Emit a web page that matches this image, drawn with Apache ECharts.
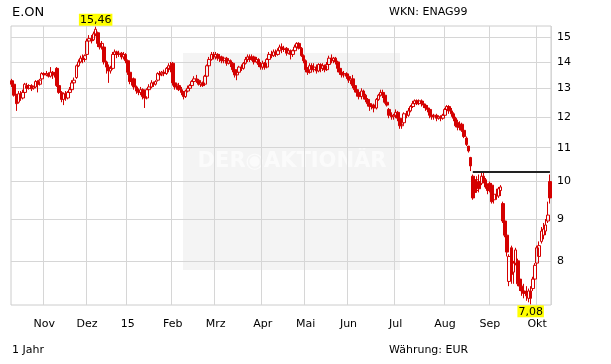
<!DOCTYPE html>
<html><head><meta charset="utf-8">
<script src="https://cdn.jsdelivr.net/npm/echarts@6/dist/echarts.min.js"></script>
<style>html,body{margin:0;padding:0;background:#fff}#c{width:611px;height:364px}</style>
</head><body><div id="c"></div>
<script>
// Month tick labels (first month is the partial Oct 2014, unlabeled)
const monthLabels = ['', 'Nov', 'Dez', '15', 'Feb', 'Mrz', 'Apr', 'Mai', 'Jun', 'Jul', 'Aug', 'Sep', 'Okt'];
// Daily candles per month: [open, close, low, high]
const okt14 = [[13.28,13.15,13.05,13.35],[13.15,12.75,12.70,13.20],[12.75,12.45,12.20,12.80],[12.50,12.80,12.45,12.90],[12.80,12.65,12.55,12.90],[12.65,12.85,12.60,12.95],[12.85,13.15,12.80,13.20],[13.10,13.00,12.90,13.20],[13.00,13.10,12.95,13.15],[13.10,12.98,12.90,13.15],[13.00,13.05,12.95,13.10],[13.05,13.25,13.00,13.30],[13.25,13.15,12.85,13.30],[13.15,13.30,13.10,13.35],[13.35,13.55,13.30,13.60]];
const nov14 = [[13.55,13.50,13.40,13.60],[13.50,13.55,13.45,13.65],[13.55,13.45,13.40,13.60],[13.45,13.60,13.40,13.80],[13.60,13.50,13.35,13.65],[13.50,13.55,13.40,13.60],[13.75,13.10,13.05,13.80],[13.10,12.85,12.80,13.30],[12.85,12.60,12.50,12.90],[12.60,12.80,12.40,12.85],[12.80,12.65,12.55,12.90],[12.65,12.85,12.60,12.90],[12.85,12.95,12.75,13.05],[12.95,13.20,12.90,13.30],[13.20,13.30,13.10,13.40],[13.40,13.85,13.35,13.90],[13.85,14.00,13.80,14.10],[14.00,14.15,13.95,14.25],[14.15,14.10,13.95,14.30],[14.10,14.25,14.00,14.30]];
const dez14 = [[14.30,14.85,14.25,14.95],[14.85,14.95,14.75,15.10],[14.95,14.85,14.75,15.10],[14.90,15.15,14.85,15.25],[15.15,15.35,15.05,15.46],[15.20,14.75,14.60,15.25],[14.75,14.60,14.50,14.85],[14.60,14.75,14.50,14.85],[14.60,14.00,13.90,14.65],[14.00,13.80,13.55,14.05],[13.80,13.65,13.20,13.90],[13.65,13.75,13.55,13.85],[13.75,14.30,13.70,14.40],[14.30,14.40,14.20,14.50],[14.40,14.30,14.15,14.45],[14.30,14.35,14.20,14.45],[14.35,14.20,14.10,14.40],[14.20,14.30,14.10,14.40],[14.30,14.05,13.95,14.35]];
const jan15 = [[14.05,13.60,13.50,14.10],[13.60,13.25,13.15,13.70],[13.25,13.35,13.10,13.45],[13.35,13.05,12.95,13.40],[13.05,12.90,12.80,13.10],[12.90,12.85,12.75,13.00],[12.85,12.95,12.75,13.05],[12.95,12.70,12.60,13.00],[12.70,12.65,12.30,12.80],[12.65,12.95,12.60,13.00],[12.95,13.05,12.90,13.15],[13.05,13.20,13.00,13.30],[13.20,13.15,13.05,13.25],[13.15,13.25,13.10,13.30],[13.30,13.55,13.25,13.60],[13.55,13.50,13.40,13.65],[13.50,13.60,13.45,13.65],[13.60,13.55,13.45,13.70],[13.55,13.75,13.50,13.80],[13.75,13.85,13.60,13.95],[13.85,13.70,13.60,14.00]];
const feb15 = [[13.95,13.20,13.10,14.00],[13.20,13.05,12.95,13.25],[13.05,13.15,12.95,13.20],[13.10,12.95,12.90,13.20],[12.95,12.85,12.75,13.05],[12.85,12.70,12.60,12.90],[12.70,12.90,12.65,12.95],[12.90,13.00,12.85,13.10],[13.00,13.10,12.95,13.15],[13.10,13.25,13.05,13.30],[13.25,13.35,13.20,13.45],[13.35,13.30,13.20,13.50],[13.30,13.15,13.10,13.35],[13.15,13.20,13.05,13.30],[13.20,13.10,13.05,13.25],[13.15,13.45,13.10,13.50],[13.45,13.85,13.40,13.90],[13.85,14.10,13.80,14.20],[14.10,14.30,14.05,14.40],[14.30,14.20,14.10,14.40]];
const mrz15 = [[14.20,14.30,14.10,14.40],[14.30,14.15,14.05,14.35],[14.15,14.20,14.00,14.30],[14.20,14.05,13.95,14.25],[14.05,14.15,13.95,14.20],[14.15,13.95,13.85,14.20],[13.95,14.05,13.90,14.15],[14.05,13.95,13.80,14.10],[13.95,13.70,13.60,14.00],[13.70,13.50,13.40,13.75],[13.50,13.60,13.30,13.70],[13.60,13.80,13.55,13.85],[13.80,13.75,13.65,13.90],[13.75,13.95,13.70,14.00],[13.95,14.10,13.90,14.20],[14.10,14.20,14.00,14.30],[14.20,14.10,14.00,14.30],[14.10,14.20,14.05,14.30],[14.20,14.00,13.90,14.25],[14.00,14.10,13.95,14.20],[14.10,13.90,13.80,14.15],[13.90,13.80,13.70,14.00]];
const apr15 = [[13.80,13.95,13.70,14.05],[13.95,13.80,13.70,14.00],[13.80,14.10,13.75,14.15],[14.10,14.30,14.05,14.40],[14.30,14.25,14.15,14.45],[14.25,14.40,14.20,14.50],[14.40,14.30,14.20,14.50],[14.30,14.45,14.25,14.55],[14.45,14.60,14.40,14.70],[14.60,14.50,14.35,14.75],[14.50,14.55,14.40,14.65],[14.55,14.35,14.25,14.60],[14.35,14.45,14.30,14.55],[14.45,14.30,14.10,14.50],[14.30,14.45,14.20,14.50],[14.45,14.60,14.40,14.70],[14.60,14.75,14.55,14.80],[14.75,14.55,14.50,14.80],[14.55,14.25,14.20,14.60],[14.25,14.05,13.95,14.30]];
const mai15 = [[14.05,13.70,13.60,14.10],[13.70,13.60,13.50,13.80],[13.60,13.85,13.55,13.95],[13.85,13.70,13.60,13.95],[13.70,13.80,13.60,13.95],[13.80,13.65,13.55,13.90],[13.65,13.90,13.60,13.95],[13.90,13.75,13.60,13.95],[13.75,13.85,13.65,13.95],[13.85,13.70,13.60,13.90],[13.70,13.90,13.65,14.00],[13.90,14.15,13.85,14.25],[14.15,14.05,13.95,14.30],[14.05,14.15,13.95,14.20],[14.15,14.00,13.90,14.20],[14.00,13.75,13.60,14.05],[13.75,13.60,13.50,13.80],[13.60,13.50,13.40,13.70],[13.50,13.55,13.40,13.65],[13.55,13.45,13.35,13.60]];
const jun15 = [[13.45,13.30,13.20,13.55],[13.30,13.35,13.15,13.45],[13.35,13.10,13.00,13.50],[13.10,12.95,12.85,13.15],[12.95,12.85,12.70,13.00],[12.85,12.70,12.60,12.90],[12.70,12.90,12.60,13.00],[12.90,12.75,12.60,12.95],[12.75,12.60,12.50,12.80],[12.60,12.45,12.35,12.65],[12.45,12.35,12.20,12.50],[12.35,12.40,12.25,12.45],[12.40,12.30,12.15,12.45],[12.30,12.60,12.25,12.65],[12.60,12.75,12.55,12.80],[12.75,12.85,12.70,12.95],[12.85,12.75,12.65,12.95],[12.75,12.50,12.45,12.80],[12.50,12.40,12.35,12.55],[12.25,12.05,11.95,12.30],[12.05,12.00,11.90,12.15],[12.00,12.05,11.90,12.10]];
const jul15 = [[12.05,12.15,11.95,12.25],[12.15,11.95,11.85,12.20],[11.95,11.70,11.60,12.00],[11.70,11.75,11.60,11.90],[11.80,12.10,11.75,12.15],[12.10,12.05,11.95,12.20],[12.05,12.20,12.00,12.30],[12.20,12.35,12.15,12.40],[12.35,12.45,12.30,12.55],[12.45,12.55,12.35,12.60],[12.55,12.45,12.40,12.60],[12.45,12.55,12.40,12.60],[12.55,12.45,12.35,12.60],[12.45,12.40,12.30,12.55],[12.40,12.30,12.20,12.45],[12.30,12.25,12.15,12.40],[12.25,12.05,11.95,12.30],[12.05,12.00,11.90,12.15],[12.00,12.05,11.90,12.10],[12.05,11.95,11.85,12.10],[11.95,12.00,11.90,12.05],[12.00,11.95,11.85,12.05],[11.95,12.05,11.90,12.10]];
const aug15 = [[12.05,12.25,12.00,12.30],[12.25,12.35,12.10,12.40],[12.35,12.20,12.10,12.40],[12.20,12.10,12.00,12.30],[12.10,11.95,11.85,12.15],[11.95,11.70,11.65,12.00],[11.80,11.65,11.55,11.90],[11.65,11.75,11.55,11.85],[11.75,11.55,11.50,11.80],[11.55,11.35,11.30,11.60],[11.30,11.10,11.05,11.35],[11.05,10.90,10.85,11.05],[10.70,10.45,10.30,10.72],[10.15,9.55,9.50,10.20],[10.05,9.70,9.55,10.15],[9.75,10.05,9.70,10.15],[10.00,9.80,9.70,10.20],[9.95,10.15,9.90,10.25],[10.15,10.05,9.95,10.25],[10.05,9.85,9.80,10.10],[9.85,9.75,9.65,9.95]];
const sep15 = [[9.95,9.75,9.70,10.00],[9.90,9.45,9.40,9.95],[9.50,9.65,9.40,9.75],[9.65,9.60,9.50,9.80],[9.60,9.80,9.55,9.85],[9.75,9.85,9.60,9.90],[9.40,8.95,8.90,9.45],[8.95,8.60,8.55,9.00],[8.60,8.20,8.10,8.65],[7.55,8.10,7.45,8.15],[8.30,7.70,7.50,8.35],[7.75,7.95,7.50,8.00],[7.95,8.25,7.90,8.30],[8.00,7.50,7.45,8.05],[7.60,7.45,7.35,7.70],[7.45,7.35,7.25,7.50],[7.35,7.30,7.20,7.50],[7.30,7.25,7.15,7.45],[7.20,7.35,7.12,7.40],[7.35,7.20,7.08,7.45],[7.40,7.60,7.35,7.65],[7.60,7.90,7.55,7.95]];
const okt15 = [[7.95,8.30,7.90,8.35],[8.10,8.35,8.00,8.45],[8.45,8.70,8.40,8.80],[8.60,8.75,8.50,8.90],[8.70,8.85,8.60,9.00],[8.95,9.10,8.90,9.45],[10.00,9.55,9.40,10.20]];
// Price axis tick values
const yTicks = [8, 9, 10, 11, 12, 13, 14, 15];
// Horizontal gap line: level and the candle it starts at
const gapLevel = 10.28;
const gapStartIndex = 215;

const months = [okt14, nov14, dez14, jan15, feb15, mrz15, apr15, mai15, jun15, jul15, aug15, sep15, okt15];
const categories = [];
const ohlc = [];
months.forEach((arr, m) => arr.forEach((d, j) => { categories.push(m + '-' + j); ohlc.push(d); }));
const isMonthStart = (idx, val) => /-0$/.test(String(val)) && !String(val).startsWith('0-');

const FONT = 'DejaVu Sans';
const RED = '#d40000';
const chart = echarts.init(document.getElementById('c'), null, { renderer: 'canvas' });
chart.setOption({
  animation: false,
  textStyle: { fontFamily: FONT },
  grid: { left: 11, right: 60, top: 26, bottom: 59, show: true, borderColor: '#cccccc', borderWidth: 1 },
  graphic: [
    { type: 'rect', z: -100, silent: true, shape: { x: 183, y: 53, width: 217, height: 217 }, style: { fill: '#f4f4f4' } },
    { type: 'text', z: -99, silent: true, x: 292, y: 162, style: { text: 'DER◉AKTIONÄR', fill: '#fbfbfb', font: 'bold 21px "DejaVu Sans"', textAlign: 'center', textVerticalAlign: 'middle' } },
    { type: 'text', x: 12, y: 12.5, style: { text: 'E.ON', fill: '#000', font: '13px "DejaVu Sans"', textVerticalAlign: 'middle' } },
    { type: 'text', x: 389, y: 12.5, style: { text: 'WKN: ENAG99', fill: '#000', font: '11px "DejaVu Sans"', textVerticalAlign: 'middle' } },
    { type: 'text', x: 12, y: 350, style: { text: '1 Jahr', fill: '#000', font: '11px "DejaVu Sans"', textVerticalAlign: 'middle' } },
    { type: 'text', x: 389, y: 350, style: { text: 'Währung: EUR', fill: '#000', font: '11px "DejaVu Sans"', textVerticalAlign: 'middle' } }
  ],
  xAxis: {
    type: 'category',
    data: categories,
    boundaryGap: true,
    axisLine: { show: false },
    axisTick: { show: false },
    axisLabel: {
      interval: isMonthStart,
      formatter: v => monthLabels[+String(v).split('-')[0]],
      color: '#000', fontSize: 11, fontFamily: FONT, margin: 14
    },
    splitLine: { show: true, interval: isMonthStart, lineStyle: { color: '#d6d6d6', width: 1 } }
  },
  yAxis: {
    type: 'log',
    logBase: 10,
    position: 'right',
    min: v => v.min * 0.998,
    max: v => v.max * 1.002,
    axisLine: { show: false },
    axisTick: { show: false, customValues: yTicks },
    axisLabel: { customValues: yTicks, color: '#000', fontSize: 11, fontFamily: FONT, margin: 6 },
    splitLine: { show: true, lineStyle: { color: '#d6d6d6', width: 1 } }
  },
  series: [{
    type: 'candlestick',
    data: ohlc,
    barWidth: 3,
    itemStyle: { color: 'rgba(255,255,255,0)', color0: RED, borderColor: RED, borderColor0: RED, borderWidth: 1 },
    markPoint: {
      symbol: 'rect', symbolSize: 0, silent: true,
      label: {
        show: true, color: '#000', fontSize: 11, fontFamily: FONT, backgroundColor: '#ffff00',
        padding: [1, 1, 0, 1], lineHeight: 11,
        formatter: p => Number(p.value).toFixed(2).replace('.', ',')
      },
      data: [
        { type: 'max', valueDim: 'highest', label: { position: 'top', distance: 1 } },
        { type: 'min', valueDim: 'lowest', label: { position: 'bottom', distance: 1 } }
      ]
    },
    markLine: {
      symbol: ['none', 'none'], silent: true,
      lineStyle: { color: '#222', width: 2, type: 'solid' },
      label: { show: false },
      emphasis: { disabled: true },
      data: [[ { coord: [categories[gapStartIndex], gapLevel] }, { coord: [categories[categories.length - 1], gapLevel] } ]]
    }
  }]
});
</script>
</body></html>
